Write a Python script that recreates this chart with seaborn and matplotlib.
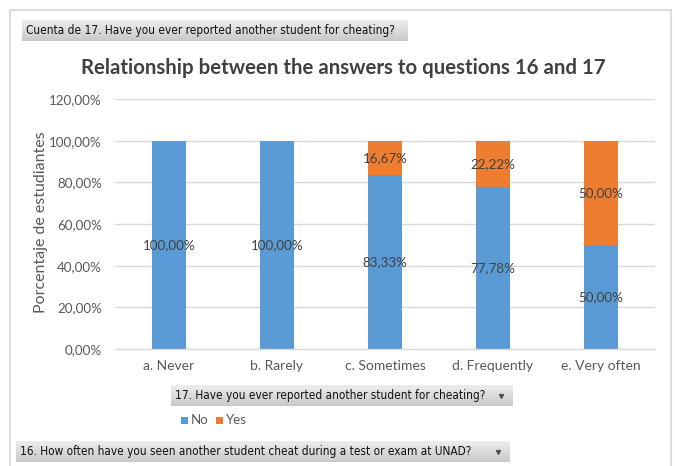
import numpy as np
import pandas as pd
import matplotlib
matplotlib.use("Agg")
import matplotlib.pyplot as plt
from matplotlib.patches import Rectangle
import seaborn as sns

# Answers to question 16 (how often cheating was seen)
categories = ["a. Never", "b. Rarely", "c. Sometimes", "d. Frequently", "e. Very often"]
# Share of answers to question 17 within each category (percent)
no_pct = [100.00, 100.00, 83.33, 77.78, 50.00]
yes_pct = [0.00, 0.00, 16.67, 22.22, 50.00]
yticks = [0, 20, 40, 60, 80, 100, 120]

title = "Relationship between the answers to questions 16 and 17"
ylabel = "Porcentaje de estudiantes"
value_field = "Cuenta de 17. Have you ever reported another student for cheating?"
legend_field = "17. Have you ever reported another student for cheating?"
axis_field = "16. How often have you seen another student cheat during a test or exam at UNAD?"

BLUE = "#5B9BD5"
ORANGE = "#ED7D31"
TXT = "#404040"
TICK = "#595959"
GRID = "#D9D9D9"

W, H = 675, 466
sns.set_theme(style="white")
plt.rcParams["font.family"] = ["Lato", "DejaVu Sans"]

fig = plt.figure(figsize=(W / 100, H / 100), dpi=100)
fig.patch.set_facecolor("white")


def px_rect(x0, y0, x1, y1):
    """Convert pixel box (top-left origin) to figure fraction [l, b, w, h]."""
    return [x0 / W, 1 - y1 / H, (x1 - x0) / W, (y1 - y0) / H]


# Plot area
ax = fig.add_axes(px_rect(115, 99, 655, 349))
df = pd.DataFrame({"cat": categories, "No": no_pct, "Yes": yes_pct})

sns.barplot(data=df, x="cat", y="No", color=BLUE, width=0.31,
            saturation=1, ax=ax, zorder=3, linewidth=0)
sns.barplot(data=df, x="cat", y="Yes", bottom=df["No"].values, color=ORANGE,
            width=0.31, saturation=1, ax=ax, zorder=3, linewidth=0)


def pct(v):
    return f"{v:.2f}".replace(".", ",") + "%"


for i, (n, y) in enumerate(zip(no_pct, yes_pct)):
    ax.text(i, n / 2, pct(n), ha="center", va="center", color=TXT,
            fontsize=9.6, zorder=5)
    if y > 0:
        ax.text(i, n + y / 2, pct(y), ha="center", va="center", color=TXT,
                fontsize=9.6, zorder=5)

ax.set_xlim(-0.5, len(categories) - 0.5)
ax.set_ylim(0, 120)
ax.set_yticks(yticks)
ax.set_yticklabels([pct(t) for t in yticks], color=TICK, fontsize=9.6)
ax.tick_params(axis="y", length=0, pad=9.5)
ax.tick_params(axis="x", length=0, pad=8, labelcolor=TICK, labelsize=10)
ax.set_xlabel("")
ax.set_ylabel(ylabel, color=TICK, fontsize=11.5)
ax.yaxis.set_label_coords((48 - 115) / 540, (349 - 222) / 250)
ax.yaxis.grid(True, color=GRID, linewidth=1, zorder=0)
ax.set_axisbelow(True)
for s in ["top", "right", "left"]:
    ax.spines[s].set_visible(False)
ax.spines["bottom"].set_color(GRID)
ax.spines["bottom"].set_linewidth(1)
ax.spines["bottom"].set_zorder(4)

fig.text(343 / W, 1 - 68 / H, title, ha="center", va="center",
         fontsize=14.7, fontweight="bold", color=TXT)

# Outer chart frame
fig.add_artist(Rectangle((10 / W, -0.05), 661 / W, 1 - 10 / H + 0.05,
                         transform=fig.transFigure, fill=False,
                         edgecolor="#DCDCDC", linewidth=1.5))

# Pivot field buttons with a soft gray gradient
grad = np.linspace(0, 1, 64).reshape(-1, 1)
btn_cmap = matplotlib.colors.LinearSegmentedColormap.from_list(
    "btn", ["#EDEDED", "#C9C9C9"])


def field_button(x0, y0, x1, y1, label, arrow=True):
    bax = fig.add_axes(px_rect(x0, y0, x1, y1))
    bax.imshow(grad, aspect="auto", cmap=btn_cmap, extent=(0, 1, 0, 1))
    bax.set_xlim(0, 1)
    bax.set_ylim(0, 1)
    bax.axis("off")
    bax.text(4 / (x1 - x0), 0.5, label, ha="left", va="center",
             fontsize=8.5, color="#111111", family=["DejaVu Sans"],
             fontstretch="condensed")
    if arrow:
        bax.plot([1 - 12 / (x1 - x0)], [0.5], marker="v", markersize=2.8,
                 color="#505050", linestyle="none")


field_button(22, 20, 407, 41, value_field, arrow=False)
field_button(171, 385, 513, 406, legend_field)
field_button(16, 441, 510, 462, axis_field)

# Series legend
for x, col, lab in [(181, BLUE, "No"), (216, ORANGE, "Yes")]:
    fig.add_artist(Rectangle((x / W, 1 - 424 / H), 7 / W, 7 / H,
                             transform=fig.transFigure, facecolor=col,
                             edgecolor="none"))
    fig.text((x + 10) / W, 1 - 420 / H, lab, ha="left", va="center",
             fontsize=9.5, color=TICK)

fig.savefig("out.png", dpi=100, facecolor="white")
